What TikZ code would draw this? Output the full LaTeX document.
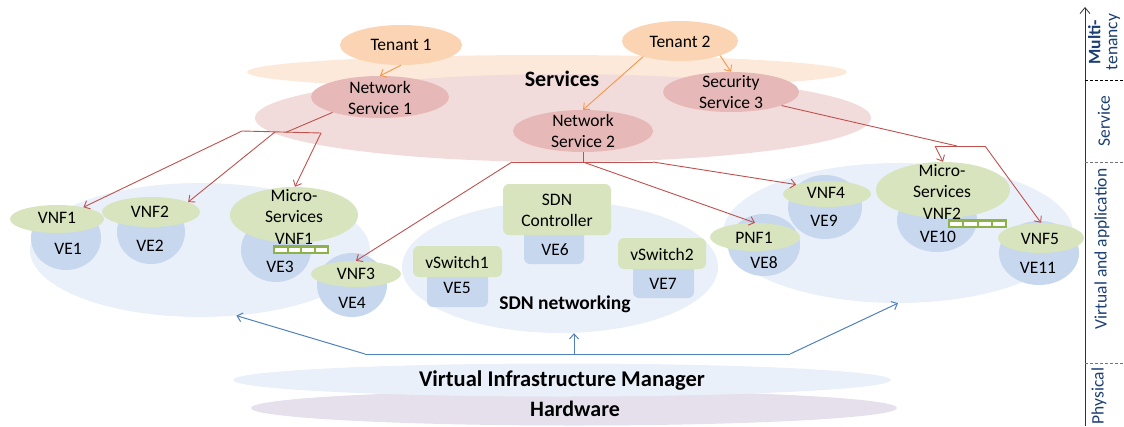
\documentclass[tikz,border=0pt]{standalone}
\usepackage{fontspec}
\setmainfont{Carlito}
\usetikzlibrary{shapes.geometric,arrows.meta}
\definecolor{tenantfill}{HTML}{FBD4B4}
\definecolor{mtfill}{HTML}{FDE9D9}
\definecolor{svcfill}{HTML}{F2DCDB}
\definecolor{nsfill}{HTML}{E6B9B8}
\definecolor{greenfill}{HTML}{D7E4BD}
\definecolor{vefill}{HTML}{C6D7EE}
\definecolor{regfill}{HTML}{EAF0F9}
\definecolor{hwfill}{HTML}{E5E0EC}
\definecolor{redline}{HTML}{C0504D}
\definecolor{orangeline}{HTML}{F79646}
\definecolor{blueline}{HTML}{4F81BD}
\definecolor{bargreen}{HTML}{8DB24A}
\definecolor{axisblue}{HTML}{1B3F73}
\begin{document}
\begin{tikzpicture}[x=1pt,y=-1pt,
  oval/.style 2 args={ellipse, minimum width=#1pt, minimum height=#2pt, inner sep=0pt, draw=none},
  box/.style 2 args={rectangle, rounded corners=6pt, minimum width=#1pt, minimum height=#2pt, inner sep=0pt, draw=none},
  lbl/.style={font=\fontsize{17.5}{21}\selectfont, align=center, inner sep=0pt, text=black},
  mslbl/.style={font=\fontsize{17.5}{21.5}\selectfont, align=center, inner sep=0pt, text=black},
  boldlbl/.style={font=\fontsize{#1}{#1}\selectfont\bfseries, align=center, inner sep=0pt, text=black},
  axlbl/.style={font=\fontsize{17.5}{16}\selectfont, align=center, inner sep=0pt, text=axisblue, rotate=90},
  redarrow/.style={draw=redline, line width=0.9pt, -{Straight Barb[length=5pt,width=9pt]}},
  redline/.style={draw=redline, line width=0.9pt},
  orangearrow/.style={draw=orangeline, line width=0.9pt, -{Straight Barb[length=5pt,width=9pt]}},
  bluearrow/.style={draw=blueline, line width=1pt, -{Straight Barb[length=5pt,width=9pt]}},
  blueline/.style={draw=blueline, line width=1pt},
  dashline/.style={line width=0.8pt, dash pattern=on 3pt off 2pt}
]
\useasboundingbox (0,0) rectangle (1124,426);

% ---------- layers ----------
\node[oval={600}{34}, fill=mtfill] (mtlayer) at (547,72) {};
\node[oval={616}{88}, fill=svcfill] (svclayer) at (563,118) {};
\node[oval={122}{40}, fill=tenantfill] (t1) at (401,45) {};
\node[oval={116}{40}, fill=tenantfill] (t2) at (680,41) {};
\node[oval={138}{42}, fill=nsfill] (ns1) at (380,97) {};
\node[oval={140}{42}, fill=nsfill] (ns2) at (583,131) {};
\node[oval={136}{40}, fill=nsfill] (ss3) at (731,92) {};

% ---------- regions ----------
\node[oval={340}{134}, fill=regfill] (leftreg) at (200,250) {};
\node[oval={316}{132}, fill=regfill] (sdnreg) at (560,267) {};
\node[oval={350}{140}, fill=regfill] (rightreg) at (898,233) {};
\node[oval={646}{35}, fill=hwfill] (hw) at (574,408) {};
\node[oval={658}{33}, fill=regfill] (vim) at (562,380) {};

% ---------- VE shapes ----------
\node[oval={70}{64}, fill=vefill] (ve1) at (66,238) {};
\node[oval={68}{64}, fill=vefill] (ve2) at (151,232) {};
\node[oval={70}{64}, fill=vefill] (ve3) at (276,250) {};
\node[oval={70}{64}, fill=vefill] (ve4) at (352,285) {};
\node[oval={72}{62}, fill=vefill] (ve8) at (764,245) {};
\node[oval={74}{64}, fill=vefill] (ve9) at (825,207) {};
\node[oval={80}{64}, fill=vefill] (ve10) at (937,220) {};
\node[oval={80}{64}, fill=vefill] (ve11) at (1039,253) {};
\node[box={60}{39}, fill=vefill] (ve6) at (554,244.5) {};
\node[box={61}{37}, fill=vefill] (ve5) at (457.5,288.5) {};
\node[box={61}{36}, fill=vefill] (ve7) at (663.5,280) {};

% ---------- function shapes ----------
\node[oval={94}{28}, fill=greenfill] (vnf1) at (57,219) {};
\node[oval={98}{30}, fill=greenfill] (vnf2) at (151,212) {};
\node[oval={128}{56}, fill=greenfill] (msv1) at (294,215) {};
\node[oval={90}{26}, fill=greenfill] (vnf3) at (356,274) {};
\node[oval={90}{28}, fill=greenfill] (pnf1) at (755,237) {};
\node[oval={88}{26}, fill=greenfill] (vnf4) at (827,194) {};
\node[oval={134}{56}, fill=greenfill] (msv2) at (943,190) {};
\node[oval={86}{30}, fill=greenfill] (vnf5) at (1041,238) {};
\node[box={108}{51}, fill=greenfill] (sdnc) at (557,209.5) {};
\node[box={89}{31}, fill=greenfill] (vsw1) at (457.5,261.5) {};
\node[box={88}{31}, fill=greenfill] (vsw2) at (662,253.5) {};

% ---------- texts ----------
\node[lbl] (t1t) at (401,45) {Tenant 1};
\node[lbl] (t2t) at (680,42) {Tenant 2};
\node[lbl] (ns1t) at (380,97.5) {Network\\Service 1};
\node[lbl] (ns2t) at (583,131) {Network\\Service 2};
\node[lbl] (ss3t) at (731,92.5) {Security\\Service 3};
\node[boldlbl=22] (svct) at (562,79) {Services};

\node[lbl] (vnf1t) at (57,218) {VNF1};
\node[lbl] (vnf2t) at (150,212) {VNF2};
\node[mslbl] (msv1t) at (294,216.5) {Micro-\\Services\\VNF1};
\node[lbl] (vnf3t) at (356,274) {VNF3};
\node[lbl] (pnf1t) at (754,238) {PNF1};
\node[lbl] (vnf4t) at (826,193) {VNF4};
\node[mslbl] (msv2t) at (942,191.5) {Micro-\\Services\\VNF2};
\node[lbl] (vnf5t) at (1040,239) {VNF5};

\node[lbl] (ve1t) at (68,249) {VE1};
\node[lbl] (ve2t) at (150,246) {VE2};
\node[lbl] (ve3t) at (280,267) {VE3};
\node[lbl] (ve4t) at (352,303) {VE4};
\node[lbl] (ve8t) at (764,263) {VE8};
\node[lbl] (ve9t) at (824,221) {VE9};
\node[lbl] (ve10t) at (938,237) {VE10};
\node[lbl] (ve11t) at (1038,268) {VE11};

\node[lbl] (sdnct) at (557,210) {SDN\\Controller};
\node[lbl] (ve6t) at (555,250) {VE6};
\node[lbl] (vsw1t) at (457,262) {vSwitch1};
\node[lbl] (ve5t) at (457,288) {VE5};
\node[lbl] (vsw2t) at (662,254) {vSwitch2};
\node[lbl] (ve7t) at (663,284) {VE7};
\node[boldlbl=19.5] (sdnt) at (565,304) {SDN networking};

\node[boldlbl=22.5] (vimt) at (562,381) {Virtual Infrastructure Manager};
\node[boldlbl=22] (hwt) at (575,409) {Hardware};

% ---------- port bars ----------
\node[rectangle, fill=bargreen, minimum width=56pt, minimum height=9pt, inner sep=0pt] (bar1) at (301,249.5) {};
\foreach \i in {0,1,2,3} { \fill[white] (275+\i*13.5,247.5) rectangle ++(11.5,4); }
\node[rectangle, fill=bargreen, minimum width=59pt, minimum height=9pt, inner sep=0pt] (bar2) at (977.5,223.5) {};
\foreach \i in {0,1,2,3} { \fill[white] (950+\i*14.25,221.5) rectangle ++(12.25,4); }

% ---------- tenant arrows ----------
\draw[orangearrow] (t1.south) -- (ns1.north);
\draw[orangearrow] (t2.-157) -- (ns2.north);
\draw[orangearrow] (t2.-20) -- (ss3.north);

% ---------- service 1 mapping ----------
\coordinate (j1a) at (242,131);
\coordinate (j1b) at (275,132);
\coordinate (j1m) at (286,132.3);
\coordinate (j1c) at (321,133);
\draw[redline] (ns1.198) -- (j1m);
\draw[redline] (j1a) -- (j1c);
\draw[redarrow] (j1a) -- (vnf1.24);
\draw[redarrow] (j1b) -- (vnf2.15);
\draw[redarrow] (j1c) -- (msv1.88);

% ---------- service 2 mapping ----------
\coordinate (j2l) at (512,162);
\coordinate (j2m) at (583,162);
\coordinate (j2r) at (653,162);
\draw[redline] (ns2.south) -- (j2m);
\draw[redline] (j2l) -- (j2r);
\draw[redarrow] (j2l) -- (vnf3.north);
\draw[redarrow] (j2m) -- (pnf1.north);
\draw[redarrow] (j2r) -- (vnf4.163);

% ---------- service 3 mapping ----------
\coordinate (j3l) at (935,146);
\coordinate (j3m) at (957,146);
\coordinate (j3r) at (985,146);
\draw[redline] (ss3.-15) -- (j3m);
\draw[redline] (j3l) -- (j3r);
\draw[redarrow] (j3l) -- (msv2.north);
\draw[redarrow] (j3r) -- (vnf5.north);

% ---------- VIM arrows ----------
\coordinate (jbL) at (365,354);
\coordinate (jbM) at (574,354);
\coordinate (jbR) at (790,354);
\draw[blueline] (jbL) -- (jbR);
\draw[bluearrow] (jbL) -- (leftreg.-61);
\draw[bluearrow] (jbR) -- (rightreg.south);
\draw[bluearrow] (jbM) -- (jbM |- sdnreg.south);

% ---------- axis ----------
\coordinate (axb) at (1085,426);
\coordinate (axt) at (1085,7);
\draw[line width=0.8pt, draw=black!80, -{Straight Barb[length=6pt,width=10pt]}] (axb) -- (axt);
\coordinate (d1a) at (1085,80);  \coordinate (d1b) at (1124,80);
\coordinate (d2a) at (1085,162); \coordinate (d2b) at (1124,162);
\coordinate (d3a) at (1085,363); \coordinate (d3b) at (1124,363);
\draw[dashline, draw=black] (d1a) -- (d1b);
\draw[dashline, draw=black!55] (d2a) -- (d2b);
\draw[dashline, draw=black!55] (d3a) -- (d3b);
\node[axlbl, font=\fontsize{17.5}{17}\selectfont] (axmt) at (1104,42) {\textbf{Multi-}\\tenancy};
\node[axlbl] (axsv) at (1104,121) {Service};
\node[axlbl] (axva) at (1102,249) {Virtual and application};
\node[axlbl] (axph) at (1099,396) {Physical};
\end{tikzpicture}
\end{document}
